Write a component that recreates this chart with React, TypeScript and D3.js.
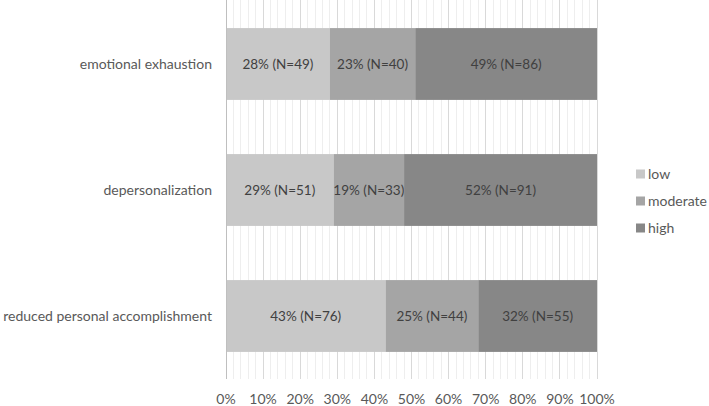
import React from "react";
import * as d3 from "d3";

const categories = ["emotional exhaustion", "depersonalization", "reduced personal accomplishment"];
const seriesNames = ["low", "moderate", "high"];
const lowPct = [28, 29, 43];
const moderatePct = [23, 19, 25];
const highPct = [49, 52, 32];
const lowN = [49, 51, 76];
const moderateN = [40, 33, 44];
const highN = [86, 91, 55];
const tickValues = [0, 10, 20, 30, 40, 50, 60, 70, 80, 90, 100];
const colors = ["#c8c8c8", "#a5a5a5", "#878787"];

const W = 709;
const H = 406;
const FONT = "Lato, 'Open Sans', sans-serif";

export default function App() {
  const x = d3.scaleLinear().domain([0, 100]).range([226, 597]);
  const y = d3.scaleBand<string>().domain(categories).range([1, 379]).paddingInner(0.43).paddingOuter(0.215);
  const pcts = [lowPct, moderatePct, highPct];
  const ns = [lowN, moderateN, highN];
  const minor = d3.range(0, 101, 2);
  const rows = categories.map((c, i) => {
    let acc = 0;
    return pcts.map((p, s) => {
      const x0 = acc;
      acc += p[i];
      return { c, s, x0, x1: acc, v: p[i], n: ns[s][i] };
    });
  });
  return (
    <svg width={W} height={H} style={{ position: "absolute", left: 0, top: 0 }}>
      <rect width={W} height={H} fill="#fff" />
      {minor.map((t) => (
        <line key={"g" + t} x1={x(t)} x2={x(t)} y1={0} y2={379}
          stroke={t % 10 === 0 ? "#d9d9d9" : "#eeeeee"} strokeWidth={1} shapeRendering="crispEdges" />
      ))}
      {rows.flat().map((d) => (
        <g key={d.c + d.s}>
          <rect x={x(d.x0)} y={y(d.c)} width={x(d.x1) - x(d.x0)} height={y.bandwidth()} fill={colors[d.s]} />
          <text x={(x(d.x0) + x(d.x1)) / 2} y={(y(d.c) as number) + y.bandwidth() / 2} dy="0.35em"
            textAnchor="middle" fontFamily={FONT} fontSize={13.5} fill="#404040">
            {`${d.v}% (N=${d.n})`}
          </text>
        </g>
      ))}
      <line x1={226} x2={226} y1={0} y2={379} stroke="#bfbfbf" shapeRendering="crispEdges" />
      {categories.map((c) => (
        <text key={c} x={212} y={(y(c) as number) + y.bandwidth() / 2} dy="0.35em" textAnchor="end"
          fontFamily={FONT} fontSize={14} fill="#595959">{c}</text>
      ))}
      {tickValues.map((t) => (
        <text key={"t" + t} x={x(t)} y={399} dy="0.35em" textAnchor="middle" fontFamily={FONT}
          fontSize={14} fill="#595959">{`${t}%`}</text>
      ))}
      {seriesNames.map((s, i) => (
        <g key={s} transform={`translate(636,${174 + i * 27})`}>
          <rect x={0} y={-4.5} width={9} height={9} fill={colors[i]} />
          <text x={12} y={0} dy="0.35em" fontFamily={FONT} fontSize={14} fill="#595959">{s}</text>
        </g>
      ))}
    </svg>
  );
}
